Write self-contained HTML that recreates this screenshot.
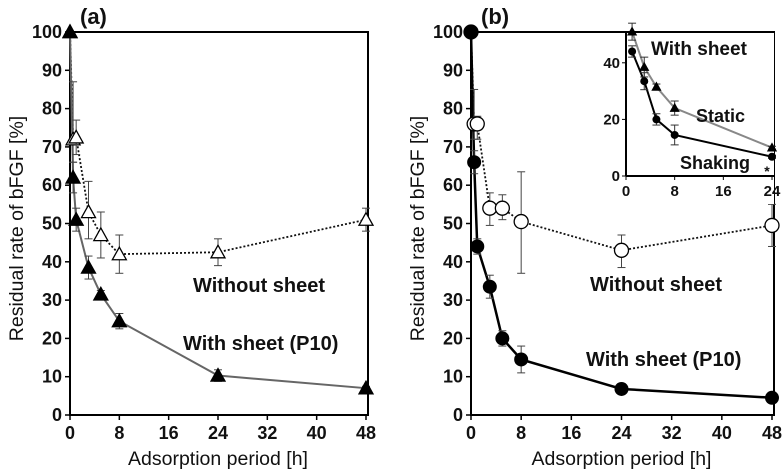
<!DOCTYPE html>
<html><head><meta charset="utf-8"><style>
body{margin:0;background:#fff}
svg{display:block}
text{font-family:"Liberation Sans",Arial,sans-serif;fill:#111}
</style></head><body>
<svg id="c" width="783" height="475" xmlns="http://www.w3.org/2000/svg"></svg>
<script>
const xTicks=[0,8,16,24,32,40,48];
const yTicks=[0,10,20,30,40,50,60,70,80,90,100];
const timesA=[0,0.5,1,3,5,8,24,48];
const aWithout=[100,72,72.5,53,47,42,42.5,51];
const aWithoutLo=[100,66,68,46,41,37,39,48];
const aWithoutHi=[100,87,77,61,53,47,46,54];
const aWith=[100,62,51,38.5,31.5,24.5,10.3,7];
const aWithErr=[0,4,3,3,1,2,1.5,0.5];
const bWithout=[100,76,76,54,54,50.5,43,49.5];
const bWithoutLo=[100,72,72,49.5,51,37,38.5,44];
const bWithoutHi=[100,85,78,58,57.5,63.5,47,55];
const bWith=[100,66,44,33.5,20,14.5,6.8,4.5];
const bWithErr=[0,3,2,3,2,3.5,0.5,0.5];
const insetTimes=[1,3,5,8,24];
const insetTicksX=[0,8,16,24];
const insetTicksY=[0,20,40];
const insetStatic=[51,38.5,31.5,24,10];
const insetStaticErr=[3,3.5,1,2.5,0.5];
const insetShaking=[44,33.5,20,14.5,6.8];
const insetShakingErr=[2,3,2,3.5,0.5];

const S=document.getElementById('c');const NS='http://www.w3.org/2000/svg';
function el(t,a,p){const e=document.createElementNS(NS,t);for(const k in a)e.setAttribute(k,a[k]);(p||S).appendChild(e);return e;}
function txt(s,a,p){const e=el('text',a,p);e.textContent=s;return e;}
function panel(x0,x1,yTop,yBot,label,name){
 const g=el('g',{});
 
 
 const sx=v=>x0+(x1-x0)*v/48, sy=v=>yBot-(yBot-yTop)*v/100;
 el('rect',{x:x0,y:yTop,width:x1-x0+2,height:yBot-yTop,fill:'none',stroke:'#000','stroke-width':2},g);
 for(const t of yTicks){el('line',{x1:x0-5,x2:x0,y1:sy(t),y2:sy(t),stroke:'#000','stroke-width':1.5},g);
  const tl=txt(t,{x:x0-8,y:sy(t)+6,'text-anchor':'end','font-size':18,'font-weight':'bold'},g);
  }
 for(const t of xTicks){el('line',{x1:sx(t),x2:sx(t),y1:yBot,y2:yBot+5,stroke:'#000','stroke-width':1.5},g);
  const tl=txt(t,{x:sx(t),y:yBot+24,'text-anchor':'middle','font-size':18,'font-weight':'bold'},g);
  }
 const xt=txt('Adsorption period [h]',{x:(x0+x1)/2,y:yBot+50,'text-anchor':'middle','font-size':19.5},g);
 
 const yt=txt('Residual rate of bFGF [%]',{transform:`translate(${x0-47},${(yTop+yBot)/2+5}) rotate(-90)`,'text-anchor':'middle','font-size':19.5},g);
 
 const pl=txt(label,{x:x0+10,y:yTop-8,'font-size':22,'font-weight':'bold'},g);
 
 return {g,sx,sy};
}
function errbar(g,x,lo,hi,c){el('line',{x1:x,x2:x,y1:lo,y2:hi,stroke:c||'#444','stroke-width':1},g);
 el('line',{x1:x-4,x2:x+4,y1:lo,y2:lo,stroke:c||'#444'},g);el('line',{x1:x-4,x2:x+4,y1:hi,y2:hi,stroke:c||'#444'},g);}
function tri(g,x,y,r,fill){return el('polygon',{points:`${x},${y-r} ${x-r},${y+r*0.8} ${x+r},${y+r*0.8}`,fill:fill,stroke:'#000','stroke-width':1.3},g);}

// Panel A
const A=panel(70,366,32,415,'(a)','panel-a');
el('polyline',{points:timesA.map((t,i)=>A.sx(t)+','+A.sy(aWithout[i])).join(' '),fill:'none',stroke:'#111','stroke-width':1.8,'stroke-dasharray':'2,2'},A.g);
el('polyline',{points:timesA.map((t,i)=>A.sx(t)+','+A.sy(aWith[i])).join(' '),fill:'none',stroke:'#666','stroke-width':2},A.g);
timesA.forEach((t,i)=>{errbar(A.g,A.sx(t),A.sy(aWithoutLo[i]),A.sy(aWithoutHi[i]));
 const m=tri(A.g,A.sx(t),A.sy(aWithout[i]),7,'#fff');});
timesA.forEach((t,i)=>{errbar(A.g,A.sx(t),A.sy(aWith[i]-aWithErr[i]),A.sy(aWith[i]+aWithErr[i]));
 const m=tri(A.g,A.sx(t),A.sy(aWith[i]),7,'#000');});
let l=txt('Without sheet',{x:193,y:292,'font-size':20,'font-weight':'bold'},A.g);
l=txt('With sheet (P10)',{x:183,y:350,'font-size':20,'font-weight':'bold'},A.g);

// Panel B
const B=panel(471,772,32,415,'(b)','panel-b');
el('polyline',{points:timesA.map((t,i)=>B.sx(t)+','+B.sy(bWithout[i])).join(' '),fill:'none',stroke:'#111','stroke-width':1.8,'stroke-dasharray':'2,2'},B.g);
el('polyline',{points:timesA.map((t,i)=>B.sx(t)+','+B.sy(bWith[i])).join(' '),fill:'none',stroke:'#000','stroke-width':2.5},B.g);
timesA.forEach((t,i)=>{errbar(B.g,B.sx(t),B.sy(bWithoutLo[i]),B.sy(bWithoutHi[i]));
 const m=el('circle',{cx:B.sx(t),cy:B.sy(bWithout[i]),r:7,fill:'#fff',stroke:'#000','stroke-width':1.3},B.g);});
timesA.forEach((t,i)=>{errbar(B.g,B.sx(t),B.sy(bWith[i]-bWithErr[i]),B.sy(bWith[i]+bWithErr[i]));
 const m=el('circle',{cx:B.sx(t),cy:B.sy(bWith[i]),r:7,fill:'#000'},B.g);});
l=txt('Without sheet',{x:590,y:291,'font-size':20,'font-weight':'bold'},B.g);
l=txt('With sheet (P10)',{x:586,y:366,'font-size':20,'font-weight':'bold'},B.g);

// Inset
const I=el('g',{});


const ix0=626,ix1=772,iy0=176,ppu=2.83;
const isx=v=>ix0+(ix1-ix0)*v/24, isy=v=>iy0-ppu*v;
el('rect',{x:ix0-30,y:33,width:ix1-ix0+32,height:iy0-33+28,fill:'#fff'},I);
el('line',{x1:ix0,x2:ix0,y1:33,y2:iy0,stroke:'#000','stroke-width':2},I);
el('line',{x1:ix0,x2:ix1+2,y1:iy0,y2:iy0,stroke:'#000','stroke-width':2},I);
for(const t of insetTicksY){el('line',{x1:ix0-4,x2:ix0,y1:isy(t),y2:isy(t),stroke:'#000'},I);
 const tl=txt(t,{x:ix0-6,y:isy(t)+5,'text-anchor':'end','font-size':15,'font-weight':'bold'},I);}
for(const t of insetTicksX){el('line',{x1:isx(t),x2:isx(t),y1:iy0,y2:iy0+4,stroke:'#000'},I);
 const tl=txt(t,{x:isx(t),y:iy0+20,'text-anchor':'middle','font-size':15,'font-weight':'bold'},I);}
el('polyline',{points:insetTimes.map((t,i)=>isx(t)+','+isy(insetStatic[i])).join(' '),fill:'none',stroke:'#888','stroke-width':2},I);
el('polyline',{points:insetTimes.map((t,i)=>isx(t)+','+isy(insetShaking[i])).join(' '),fill:'none',stroke:'#000','stroke-width':2},I);
insetTimes.forEach((t,i)=>{errbar(I,isx(t),isy(insetStatic[i]-insetStaticErr[i]),isy(insetStatic[i]+insetStaticErr[i]),'#333');
 const m=tri(I,isx(t),isy(insetStatic[i]),4,'#000');
 errbar(I,isx(t),isy(insetShaking[i]-insetShakingErr[i]),isy(insetShaking[i]+insetShakingErr[i]),'#333');
 const c=el('circle',{cx:isx(t),cy:isy(insetShaking[i]),r:4,fill:'#000'},I);});
l=txt('With sheet',{x:651,y:55,'font-size':19,'font-weight':'bold'},I);
l=txt('Static',{x:696,y:122,'font-size':18,'font-weight':'bold',fill:'#666'},I);
l=txt('Shaking',{x:680,y:169,'font-size':18,'font-weight':'bold'},I);
l=txt('*',{x:767,y:176,'font-size':14,'font-weight':'bold','text-anchor':'middle'},I);
</script>
</body></html>
